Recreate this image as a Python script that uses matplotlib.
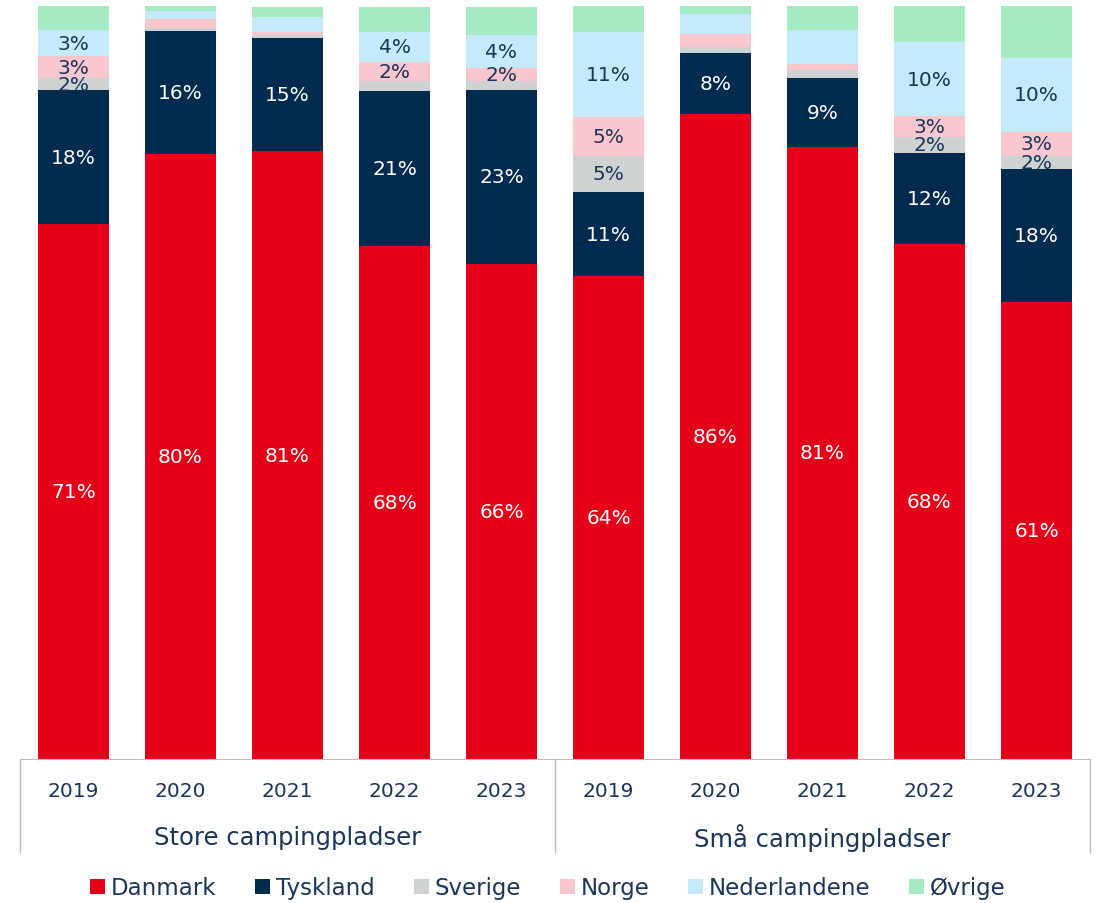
import numpy as np
import matplotlib
matplotlib.use('Agg')
import matplotlib.pyplot as plt
import matplotlib.transforms as mtransforms

# data (share in %)
years = ['2019', '2020', '2021', '2022', '2023']
groups = ['Store campingpladser', 'Små campingpladser']
series = ['Danmark', 'Tyskland', 'Sverige', 'Norge', 'Nederlandene', 'Øvrige']

danmark      = [71.0, 80.3, 80.7, 68.1, 65.7, 64.1, 85.7, 81.3, 68.4, 60.7]
tyskland     = [17.8, 16.4, 15.1, 20.6, 23.2, 11.2,  8.1,  9.1, 12.1, 17.6]
sverige      = [ 1.6,  0.4,  0.3,  1.4,  1.2,  4.8,  0.8,  1.1,  2.1,  1.8]
norge        = [ 2.9,  1.2,  0.5,  2.5,  1.7,  5.2,  1.7,  0.8,  2.8,  3.2]
nederlandene = [ 3.45, 1.06, 2.0,  4.0,  4.4, 11.2,  2.7,  4.5,  9.8,  9.8]
ovrige       = [ 3.2,  0.8,  1.3,  3.3,  3.7,  3.6,  1.0,  3.3,  4.8,  6.9]

# bars where the small shares got a data label
small_labels = [True, False, False, True, True, True, False, False, True, True]

colors = ['#E50019', '#022B50', '#CFD2D3', '#F9C6CE', '#C5EAFB', '#A5EBC1']
txt_col = '#1B3558'

plt.rcParams['font.family'] = ['DejaVu Sans']

fig = plt.figure(figsize=(10.96, 9.04), dpi=100)
ax = fig.add_axes([20 / 1096, 144 / 904, 1070 / 1096, 753 / 904])

data = [danmark, tyskland, sverige, norge, nederlandene, ovrige]
x = np.arange(len(danmark))
bottom = np.zeros(len(x))
for i, (name, vals) in enumerate(zip(series, data)):
    vals = np.array(vals)
    ax.bar(x, vals, bottom=bottom, width=0.66, color=colors[i], label=name,
           edgecolor='none')
    for j, v in enumerate(vals):
        show = False
        if i < 2:
            show = True
        elif i < 5 and small_labels[j] and v >= 1.5:
            show = True
        if show:
            c = 'white' if i < 2 else txt_col
            ax.text(x[j], bottom[j] + v / 2, '%d%%' % round(v), ha='center',
                    va='center', color=c, fontsize=14.5)
    bottom += vals

ax.set_xlim(-0.5, 9.5)
ax.set_ylim(0, 100)
ax.set_yticks([])
for s in ['top', 'right', 'left']:
    ax.spines[s].set_visible(False)
ax.spines['bottom'].set_color('#BFBFBF')
ax.set_xticks(x)
ax.set_xticklabels(years * 2, fontsize=14.5, color=txt_col)
ax.tick_params(axis='x', length=0, pad=16)

trans = mtransforms.blended_transform_factory(ax.transData, ax.transAxes)
for xs in [-0.5, 4.5, 9.5]:
    ax.plot([xs, xs], [0, -0.124], color='#BFBFBF', lw=1, transform=trans,
            clip_on=False)
for k, g in enumerate(groups):
    ax.text(2 + 5 * k, -0.104, g, transform=trans, ha='center', va='center',
            fontsize=17.5, color=txt_col)

fig.legend(loc='center', bbox_to_anchor=(0.5, 15 / 904), ncol=6, frameon=False,
           fontsize=16.5, handlelength=0.65, handleheight=0.65, handletextpad=0.25,
           columnspacing=1.7, labelcolor=txt_col)

fig.savefig('out.png', dpi=100)
